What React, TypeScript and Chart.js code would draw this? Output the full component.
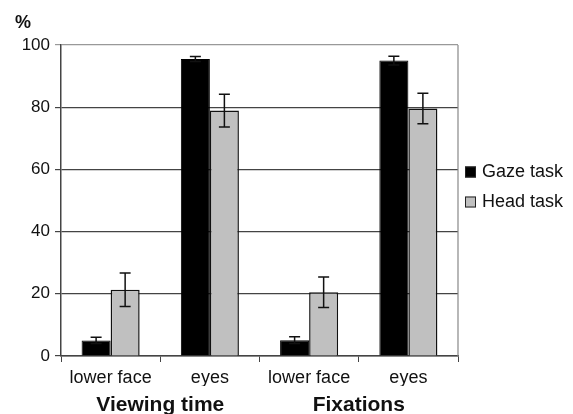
import React, { useEffect, useRef } from "react";
import { Chart, registerables } from "chart.js";

Chart.register(...registerables);

const categories = ["lower face", "eyes", "lower face", "eyes"];
const groupLabels = ["Viewing time", "Fixations"];
const gazeValues = [5, 95.5, 5.1, 95];
const gazeErrors = [1, 0.8, 1.1, 1.4];
const headValues = [21.3, 78.9, 20.5, 79.6];
const headErrors = [5.4, 5.3, 4.9, 4.9];
const yTicks = [0, 20, 40, 60, 80, 100];

const FONT = "'Liberation Sans', Arial, Helvetica, sans-serif";

const errorBarPlugin = {
  id: "errorBars",
  afterDatasetsDraw(chart: any) {
    const ctx = chart.ctx;
    const y = chart.scales.y;
    ctx.save();
    ctx.strokeStyle = "#111";
    ctx.lineWidth = 1.5;
    chart.data.datasets.forEach((ds: any, di: number) => {
      const meta = chart.getDatasetMeta(di);
      const errs: number[] = ds.errors || [];
      meta.data.forEach((bar: any, i: number) => {
        const v = ds.data[i];
        const e = errs[i] || 0;
        const top = y.getPixelForValue(v + e);
        const bot = y.getPixelForValue(v - e);
        const x = bar.x;
        const cap = 5.5;
        ctx.beginPath();
        ctx.moveTo(x, top);
        ctx.lineTo(x, bot);
        ctx.moveTo(x - cap, top);
        ctx.lineTo(x + cap, top);
        ctx.moveTo(x - cap, bot);
        ctx.lineTo(x + cap, bot);
        ctx.stroke();
      });
    });
    ctx.restore();
  },
};

const framePlugin = {
  id: "frameAndLegend",
  afterDraw(chart: any) {
    const ctx = chart.ctx;
    const area = chart.chartArea;
    const y = chart.scales.y;
    ctx.save();
    // right frame line
    ctx.strokeStyle = "#888";
    ctx.lineWidth = 1.2;
    ctx.beginPath();
    ctx.moveTo(area.right, area.top);
    ctx.lineTo(area.right, area.bottom);
    ctx.stroke();
    // percent sign
    ctx.font = `bold 18px ${FONT}`;
    ctx.fillStyle = "#111";
    ctx.textAlign = "left";
    ctx.textBaseline = "middle";
    ctx.fillText("%", y.left + 15, area.top - 22);
    // legend
    ctx.font = `18px ${FONT}`;
    const startY = area.top + 127;
    chart.data.datasets.forEach((ds: any, i: number) => {
      const cy = startY + i * 30;
      const bx = area.right + 7;
      ctx.fillStyle = ds.backgroundColor;
      ctx.fillRect(bx, cy - 5.5, 11, 11);
      ctx.strokeStyle = "#222";
      ctx.lineWidth = 1;
      ctx.strokeRect(bx + 0.5, cy - 5, 10, 10);
      ctx.fillStyle = "#111";
      ctx.fillText(ds.label, bx + 17, cy);
    });
    ctx.restore();
  },
};

export default function App() {
  const ref = useRef<HTMLCanvasElement | null>(null);
  useEffect(() => {
    document.body.style.margin = "0";
    if (!ref.current) return;
    const chart = new Chart(ref.current, {
      type: "bar",
      data: {
        labels: categories,
        datasets: [
          {
            label: "Gaze task",
            data: gazeValues,
            errors: gazeErrors,
            backgroundColor: "#000000",
            borderColor: "#000000",
            borderWidth: 1,
          } as any,
          {
            label: "Head task",
            data: headValues,
            errors: headErrors,
            backgroundColor: "#c0c0c0",
            borderColor: "#111111",
            borderWidth: 1.5,
          } as any,
        ],
      },
      options: {
        animation: false,
        responsive: false,
        maintainAspectRatio: false,
        layout: { padding: { top: 45, right: 115, bottom: 0, left: 0 } },
        datasets: { bar: { categoryPercentage: 0.585, barPercentage: 1 } },
        plugins: {
          legend: { display: false },
          tooltip: { enabled: false },
        },
        scales: {
          x: {
            type: "category",
            offset: true,
            afterFit(scale: any) {
              scale.height = 30;
            },
            grid: {
              display: true,
              drawOnChartArea: false,
              drawTicks: true,
              tickLength: 6,
              color: "#444",
              offset: true,
            },
            border: { display: true, color: "#444", width: 1.5 },
            ticks: {
              color: "#111",
              font: { family: FONT, size: 18 },
              padding: 5,
              maxRotation: 0,
              autoSkip: false,
            },
          },
          x2: {
            type: "category",
            position: "bottom",
            labels: groupLabels,
            offset: true,
            afterFit(scale: any) {
              scale.height = 28;
            },
            grid: { display: false, drawTicks: false },
            border: { display: false },
            ticks: {
              color: "#111",
              font: { family: FONT, size: 21, weight: "bold" },
              padding: 7,
              maxRotation: 0,
            },
          },
          y: {
            min: 0,
            max: 100,
            afterBuildTicks(scale: any) {
              scale.ticks = yTicks.map((v) => ({ value: v }));
            },
            afterFit(scale: any) {
              scale.width = 61;
            },
            grid: {
              color: (c: any) => (c.tick && c.tick.value === 100 ? "#999" : "#444"),
              lineWidth: 1.2,
              tickLength: 6,
            },
            border: { display: true, color: "#444", width: 1.5 },
            ticks: {
              color: "#111",
              font: { family: FONT, size: 17 },
              padding: 5,
            },
          },
        },
      } as any,
      plugins: [errorBarPlugin, framePlugin],
    });
    return () => chart.destroy();
  }, []);
  return (
    <div style={{ width: 573, height: 414 }}>
      <canvas ref={ref} width={573} height={414} style={{ display: "block", width: 573, height: 414 }} />
    </div>
  );
}
